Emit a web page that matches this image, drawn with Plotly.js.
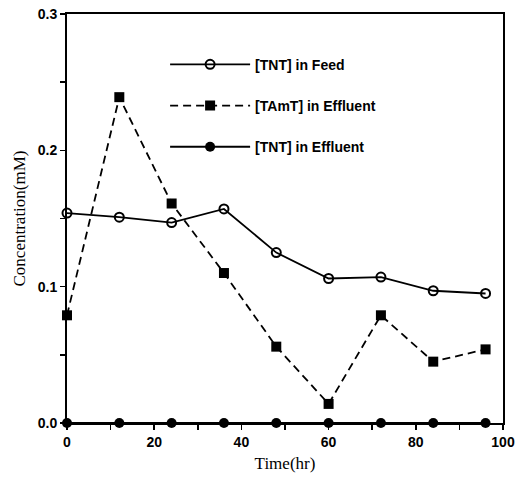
<!DOCTYPE html>
<html>
<head>
<meta charset="utf-8">
<script src="https://cdn.plot.ly/plotly-3.0.1.min.js"></script>
<style>html,body{margin:0;padding:0;background:#fff;}#chart{width:519px;height:478px;}</style>
</head>
<body>
<div id="chart"></div>
<script>
const time = [0, 12, 24, 36, 48, 60, 72, 84, 96];
const tntFeed = [0.154, 0.151, 0.147, 0.157, 0.125, 0.106, 0.107, 0.097, 0.095];
const tamtEffluent = [0.079, 0.239, 0.161, 0.110, 0.056, 0.014, 0.079, 0.045, 0.054];
const tntEffluent = [0, 0, 0, 0, 0, 0, 0, 0, 0];
const seriesNames = ['[TNT] in Feed', '[TAmT] in Effluent', '[TNT] in Effluent'];
const xTickVals = [0, 10, 20, 30, 40, 50, 60, 70, 80, 90, 100];
const xTickText = ['0', '', '20', '', '40', '', '60', '', '80', '', '100'];
const yTickVals = [0, 0.05, 0.1, 0.15, 0.2, 0.25, 0.3];
const yTickText = ['0.0', '', '0.1', '', '0.2', '', '0.3'];

const traces = [
  {x: time, y: tntFeed, name: seriesNames[0], mode: 'lines+markers', legendgroup: 'a',
   line: {color: '#000', width: 1.8},
   marker: {symbol: 'circle-open', size: 9, color: '#000', line: {width: 2, color: '#000'}},
   cliponaxis: false},
  {x: time, y: tamtEffluent, name: seriesNames[1], mode: 'lines+markers', legendgroup: 'b',
   line: {color: '#000', width: 1.8, dash: '8px,5px'},
   marker: {symbol: 'square', size: 10, color: '#000'},
   cliponaxis: false},
  {x: time, y: tntEffluent, name: seriesNames[2], mode: 'lines+markers', legendgroup: 'c',
   line: {color: '#000', width: 2},
   marker: {symbol: 'circle', size: 10, color: '#000'},
   cliponaxis: false}
];

const layout = {
  width: 519, height: 478,
  margin: {l: 67, r: 16, t: 14, b: 55},
  paper_bgcolor: '#fff', plot_bgcolor: '#fff',
  showlegend: true,
  legend: {x: 0.225, y: 0.915, xanchor: 'left', yanchor: 'top', traceorder: 'grouped', tracegroupgap: 20,
           itemwidth: 80,
           bgcolor: 'rgba(0,0,0,0)', font: {family: 'Liberation Sans, Arial', size: 14, color: '#000', weight: 'bold'}},
  xaxis: {range: [0, 100], tickmode: 'array', tickvals: xTickVals, ticktext: xTickText,
          ticks: 'outside', ticklen: 5, tickwidth: 1.5, tickcolor: '#000',
          showline: true, linewidth: 2, linecolor: '#000', mirror: true, showgrid: false, zeroline: false,
          tickfont: {family: 'Liberation Sans, Arial', size: 14, color: '#000', weight: 'bold'},
          title: {text: 'Time(hr)', font: {family: 'Liberation Serif, Times New Roman', size: 17, color: '#000'}, standoff: 8}},
  yaxis: {range: [0, 0.3], tickmode: 'array', tickvals: yTickVals, ticktext: yTickText,
          ticks: 'outside', ticklen: 5, tickwidth: 1.5, tickcolor: '#000',
          showline: true, linewidth: 2, linecolor: '#000', mirror: true, showgrid: false, zeroline: false,
          tickfont: {family: 'Liberation Sans, Arial', size: 14, color: '#000', weight: 'bold'},
          title: {text: 'Concentration(mM)', font: {family: 'Liberation Serif, Times New Roman', size: 17, color: '#000'}, standoff: 8}}
};

Plotly.newPlot('chart', traces, layout, {displayModeBar: false, staticPlot: true});
</script>
</body>
</html>
